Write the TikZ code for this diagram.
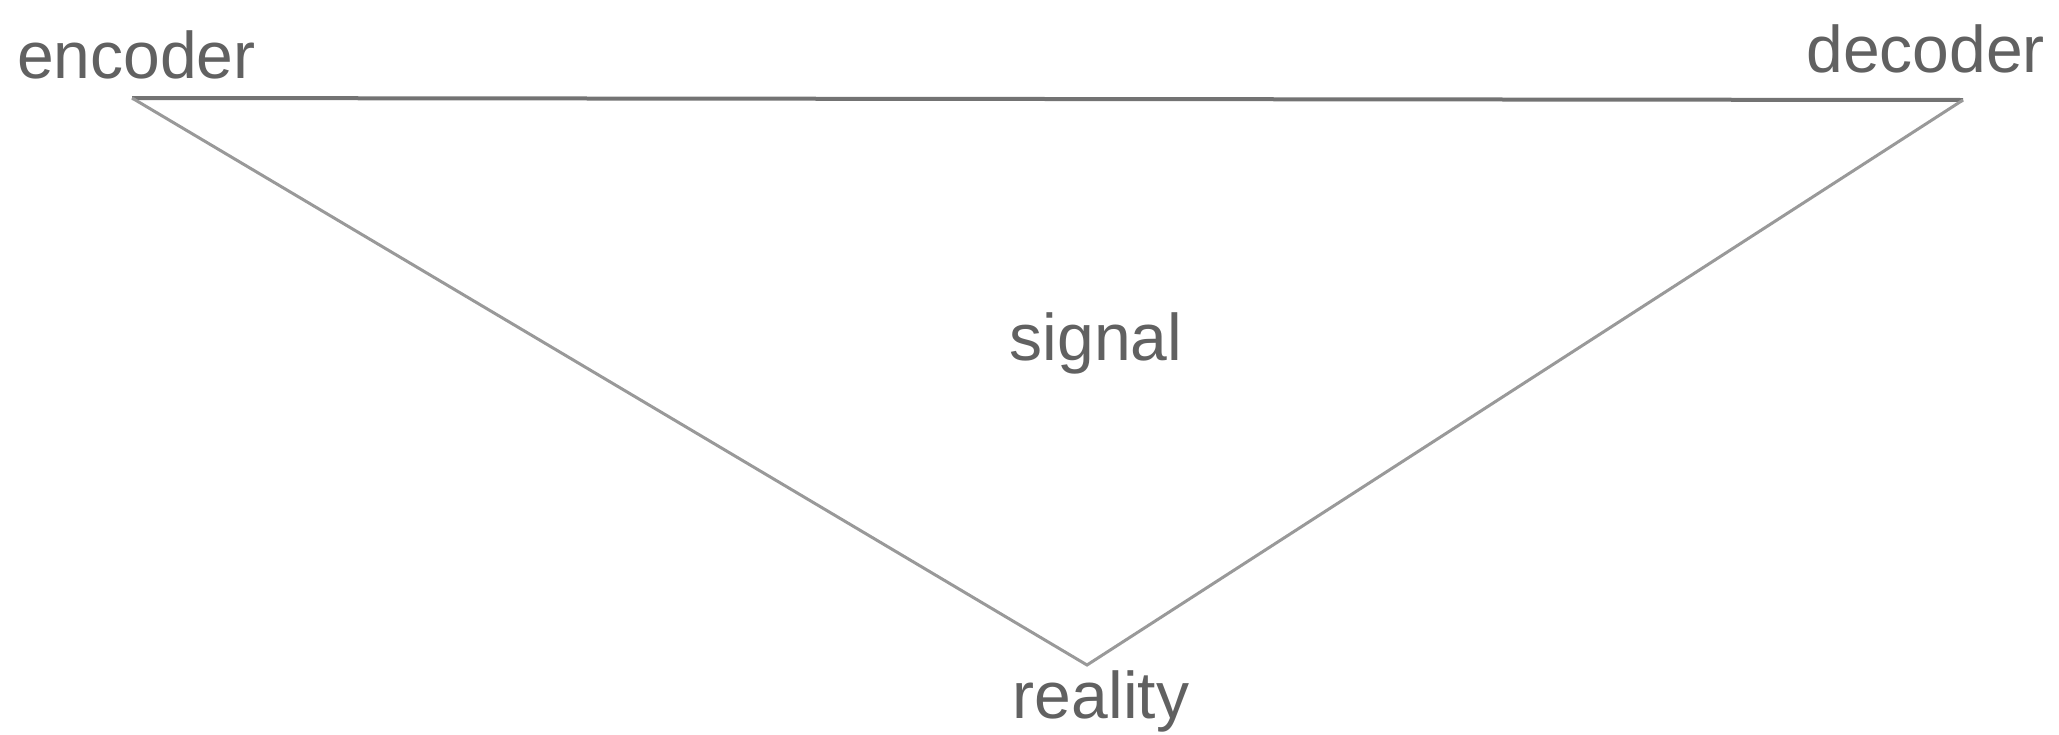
\documentclass[tikz,border=0pt]{standalone}
\usepackage{fontspec}
\setmainfont{Liberation Sans}
\begin{document}
\begin{tikzpicture}[x=1pt,y=-1pt,
  lbl/.style={inner sep=0pt, text=black!62, font=\fontsize{66}{79}\selectfont},
  topline/.style={draw=black!55, line width=4pt},
  sideline/.style={draw=black!40, line width=3pt}]
\useasboundingbox (0,0) rectangle (2059,734);
\coordinate (E) at (132,98);
\coordinate (D) at (1963,100);
\coordinate (R) at (1087,665);
\node[lbl, anchor=base west] (enc) at (17,78) {encoder};
\node[lbl, anchor=base east] (dec) at (2045,72) {decoder};
\node[lbl, anchor=base] (sig) at (1096,360) {signal};
\node[lbl, anchor=base] (real) at (1101,718) {reality};
\draw[topline] (E) -- (D);
\draw[sideline] (E) -- (R) -- (D);
\end{tikzpicture}
\end{document}
